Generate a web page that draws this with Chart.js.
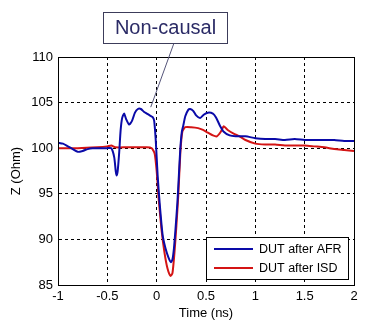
<!DOCTYPE html>
<html>
<head>
<meta charset="utf-8">
<script src="https://cdn.jsdelivr.net/npm/chart.js@4/dist/chart.umd.min.js"></script>
<style>
html,body{margin:0;padding:0;background:#fff;}
#wrap{position:relative;width:379px;height:335px;}
</style>
</head>
<body>
<div id="wrap"><canvas id="c" width="379" height="335"></canvas></div>
<script>
// ---- data ----
const seriesNames = ['DUT after AFR', 'DUT after ISD'];
const timeAFR = [-1, -0.95, -0.9, -0.85, -0.8, -0.75, -0.7, -0.65, -0.6, -0.55, -0.5, -0.46, -0.43, -0.415, -0.405, -0.395, -0.38, -0.365, -0.35, -0.33, -0.31, -0.28, -0.25, -0.22, -0.19, -0.16, -0.13, -0.1, -0.07, -0.04, -0.025, -0.01, 0.0, 0.01, 0.03, 0.06, 0.09, 0.12, 0.145, 0.16, 0.175, 0.19, 0.21, 0.225, 0.24, 0.255, 0.27, 0.29, 0.32, 0.34, 0.37, 0.4, 0.44, 0.48, 0.52, 0.57, 0.6, 0.64, 0.68, 0.74, 0.8, 0.9, 1.0, 1.1, 1.2, 1.3, 1.4, 1.5, 1.6, 1.7, 1.8, 1.9, 2.0];
const zAFR = [100.6, 100.5, 100.2, 99.9, 99.6, 99.7, 99.9, 100.0, 100.0, 100.0, 100.0, 100.0, 99.0, 97.5, 97.0, 97.5, 99.5, 102.0, 103.3, 103.8, 103.2, 102.6, 103.0, 103.9, 104.3, 104.3, 104.0, 103.8, 103.6, 103.4, 103.0, 101.0, 99.0, 97.0, 94.0, 90.5, 89.0, 88.0, 87.5, 87.8, 89.0, 91.0, 94.0, 97.0, 100.0, 101.8, 102.5, 103.5, 104.2, 104.3, 104.1, 103.6, 103.3, 103.7, 103.9, 103.8, 103.4, 102.5, 101.8, 101.4, 101.3, 101.3, 101.1, 101.0, 101.0, 100.9, 101.0, 100.9, 100.9, 100.9, 100.9, 100.8, 100.8];
const timeISD = [-1, -0.8, -0.6, -0.5, -0.46, -0.42, -0.3, -0.1, -0.05, -0.02, 0.0, 0.02, 0.05, 0.08, 0.11, 0.14, 0.16, 0.18, 0.2, 0.22, 0.24, 0.26, 0.29, 0.35, 0.42, 0.47, 0.52, 0.57, 0.61, 0.65, 0.68, 0.72, 0.78, 0.84, 0.9, 1.0, 1.1, 1.2, 1.3, 1.4, 1.5, 1.6, 1.7, 1.8, 1.9, 2.0];
const zISD = [100.0, 100.0, 100.1, 100.2, 100.3, 100.1, 100.1, 100.1, 100.0, 99.4, 97.5, 94.5, 91.0, 88.5, 86.8, 86.0, 86.3, 88.5, 91.5, 95.0, 99.5, 101.8, 102.3, 102.3, 102.2, 102.0, 101.7, 101.4, 101.3, 101.8, 102.4, 102.0, 101.6, 101.3, 100.9, 100.5, 100.4, 100.4, 100.3, 100.3, 100.3, 100.2, 100.1, 99.9, 99.8, 99.7];
const xTickValues = [-1, -0.5, 0, 0.5, 1, 1.5, 2];
const yTickValues = [85, 90, 95, 100, 105, 110];
const annotationText = 'Non-causal';
const annotationPoint = {x: -0.06, y: 104.5};

const FONT = '"Liberation Sans", Arial, sans-serif';
const colors = ['#0a0aa8', '#d41414'];

const toPts = (xs, ys) => xs.map((x, i) => ({x: x, y: ys[i]}));

const framePlugin = {
  id: 'frame',
  afterDraw(chart) {
    const {ctx, chartArea: a} = chart;
    ctx.save();
    // frame
    ctx.strokeStyle = '#000';
    ctx.lineWidth = 1;
    ctx.setLineDash([]);
    ctx.strokeRect(Math.round(a.left) + 0.5, Math.round(a.top) + 0.5, Math.round(a.right - a.left), Math.round(a.bottom - a.top));
    // legend inside plot
    const lx = 206.5, ly = 237.5, lw = 142, lh = 42;
    ctx.fillStyle = '#fff';
    ctx.fillRect(lx, ly, lw, lh);
    ctx.strokeRect(lx, ly, lw, lh);
    ctx.font = '12.5px ' + FONT;
    ctx.textBaseline = 'middle';
    ctx.textAlign = 'left';
    chart.data.datasets.forEach((ds, i) => {
      const yy = 249 + i * 19;
      ctx.strokeStyle = ds.borderColor;
      ctx.lineWidth = 2;
      ctx.beginPath();
      ctx.moveTo(214, yy);
      ctx.lineTo(253, yy);
      ctx.stroke();
      ctx.fillStyle = '#000';
      ctx.fillText(ds.label, 259, yy + 0.5);
    });
    // annotation
    const px = chart.scales.x.getPixelForValue(annotationPoint.x);
    const py = chart.scales.y.getPixelForValue(annotationPoint.y);
    ctx.strokeStyle = '#55557a';
    ctx.lineWidth = 1;
    ctx.beginPath();
    ctx.moveTo(174, 43);
    ctx.lineTo(px, py);
    ctx.stroke();
    ctx.fillStyle = '#fff';
    ctx.fillRect(103.5, 12.5, 124, 31);
    ctx.strokeStyle = '#3c3c5a';
    ctx.strokeRect(103.5, 12.5, 124, 31);
    ctx.fillStyle = '#2b2b66';
    ctx.font = '20px ' + FONT;
    ctx.textAlign = 'center';
    ctx.textBaseline = 'middle';
    ctx.fillText(annotationText, 165.5, 28.5);
    ctx.restore();
  }
};

new Chart(document.getElementById('c'), {
  type: 'line',
  data: {
    datasets: [
      {label: seriesNames[0], data: toPts(timeAFR, zAFR), borderColor: colors[0], borderWidth: 2, pointRadius: 0, tension: 0.2, fill: false},
      {label: seriesNames[1], data: toPts(timeISD, zISD), borderColor: colors[1], borderWidth: 2, pointRadius: 0, tension: 0.2, fill: false}
    ]
  },
  options: {
    responsive: false,
    animation: false,
    events: [],
    layout: {padding: {left: 0, right: 25, top: 57, bottom: 0}},
    plugins: {legend: {display: false}, tooltip: {enabled: false}},
    scales: {
      x: {
        type: 'linear', min: -1, max: 2,
        afterBuildTicks: s => { s.ticks = xTickValues.map(v => ({value: v})); },
        afterFit: s => { s.height = 50; },
        ticks: {color: '#000', font: {family: FONT, size: 13}, padding: 4, maxRotation: 0, autoSkip: false, callback: v => String(v)},
        grid: {color: '#000', lineWidth: 1, drawTicks: false},
        border: {display: true, color: '#000', width: 1, dash: [3, 3]},
        title: {display: true, text: 'Time (ns)', color: '#000', font: {family: FONT, size: 13}, padding: {top: 0, bottom: 14}}
      },
      y: {
        type: 'linear', min: 85, max: 110,
        afterBuildTicks: s => { s.ticks = yTickValues.map(v => ({value: v})); },
        afterFit: s => { s.width = 58; },
        ticks: {color: '#000', font: {family: FONT, size: 13}, padding: 5, autoSkip: false, callback: v => String(v)},
        grid: {color: '#000', lineWidth: 1, drawTicks: false},
        border: {display: true, color: '#000', width: 1, dash: [3, 3]},
        title: {display: true, text: 'Z (Ohm)', color: '#000', font: {family: FONT, size: 13}, padding: {top: 9, bottom: 0}}
      }
    }
  },
  plugins: [framePlugin]
});
</script>
</body>
</html>
